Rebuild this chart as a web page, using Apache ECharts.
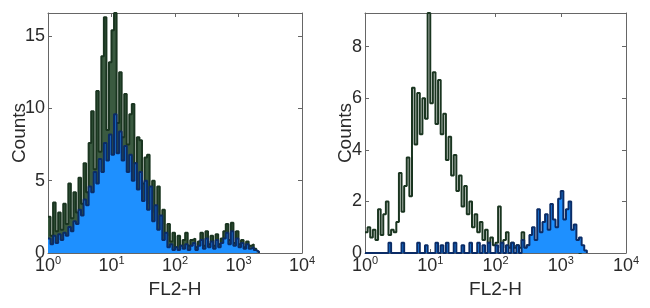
<!DOCTYPE html>
<html><head><meta charset="utf-8">
<script src="https://cdn.jsdelivr.net/npm/echarts/dist/echarts.min.js"></script>
<style>html,body{margin:0;padding:0;background:#fff}#c{width:650px;height:308px}</style>
</head><body><div id="c"></div>
<script>
// histogram bins: each bin spans binWidthDecades on the log10 FL2-H axis, starting at 10^0
const binWidthDecades = 0.04;
const xTickExponents = [0, 1, 2, 3, 4];
const leftYMax = 16.6;
const rightYMax = 9.3;
const leftYInterval = 5;
const rightYInterval = 2;

// left panel
const leftGreen = [2.5,1.2,3.5,1.5,2.8,1.6,3.4,2.0,4.8,2.4,
  4.2,2.8,5.2,3.4,6.2,4.2,7.6,9.8,5.8,11.2,
  7.0,13.6,16.3,8.5,13.2,15.4,16.6,9.0,12.5,8.0,
  11.0,7.5,9.6,10.3,6.2,8.0,7.8,4.8,6.6,6.8,
  3.4,5.0,2.8,4.6,2.0,3.0,1.2,2.0,0.8,1.4,
  0.4,1.2,0.5,0.9,1.4,0.5,0.9,1.0,0.4,0.8,
  1.4,0.5,1.5,0.6,1.2,0.5,1.3,0.6,1.0,1.5,
  2.0,0.9,2.1,0.7,1.5,0.6,0.9,0.4,0.8,0.5,
  0.6,0.3,0.1];
const leftBlue = [1.0,0.6,1.2,0.7,1.3,0.9,1.4,1.2,1.8,1.5,
  2.2,2.0,3.0,2.6,3.7,3.3,4.6,4.2,5.6,4.8,
  6.5,5.6,7.6,6.4,8.2,6.8,9.6,6.9,8.4,6.4,
  7.4,5.6,6.8,5.0,6.2,4.4,5.6,3.6,5.0,3.0,
  4.6,2.2,3.3,1.6,2.6,0.9,1.4,0.4,0.6,0.2,
  0.4,0.2,0.5,0.3,0.6,0.2,0.5,0.7,0.2,0.5,
  0.9,0.3,1.0,0.4,0.8,0.3,0.9,0.4,0.7,1.0,
  1.4,0.6,1.5,0.5,1.0,0.4,0.7,0.3,0.6,0.3,
  0.4,0.2,0.1];

// right panel
const rightGreen = [0.8,1.0,0.6,0.9,0.5,1.7,0.7,1.5,2.0,0.7,
  0.9,0.8,1.2,3.1,1.6,2.6,3.7,2.2,6.4,4.2,
  6.2,4.6,6.0,5.2,9.3,5.8,7.0,5.0,6.7,4.6,
  5.4,3.6,4.5,3.0,3.8,2.4,3.0,1.8,2.6,1.5,
  2.0,1.0,1.5,0.8,1.2,0.5,0.9,0.4,0.6,0.3,
  0.4,1.8,0.2,0.5,0.8,0.2,0.4,0.2,0.3,0.2,
  0.8,0.2,0.3,0.2,0.2,0.1,0.2,0.1,0.2,0.1,
  0.2,0.1,0.2,0.1,0.1,0.2,0.1,0.1,0.2,0.1,
  0.1,0.1,0.0];
const rightBlue = [0,0,0,0,0,0,0,0,0,0.4,
  0,0,0,0,0.4,0,0,0,0,0,
  0.4,0,0,0.3,0,0,0,0.4,0,0.3,
  0,0.4,0,0,0.4,0,0,0.3,0,0,
  0.4,0,0,0.4,0,0.3,0,0.4,0,0,
  0.3,0,0.4,0,0.3,0,0.4,0,0.3,0,
  0.5,0.2,0.3,0.7,1.0,0.5,1.7,0.8,1.2,1.5,
  0.9,1.9,1.3,1.0,2.1,2.4,1.3,1.7,2.0,0.9,
  1.1,0.5,0.6,0.3,0.1];

function steps(vals) {
  const pts = vals.map((v, i) => [Math.pow(10, i * binWidthDecades), v]);
  pts.push([Math.pow(10, vals.length * binWidthDecades), 0]);
  return pts;
}

const FONT = "'Liberation Sans', Arial, sans-serif";
const TXT = '#2a2a2a';
const LINE = '#666';
const xMin = Math.pow(10, xTickExponents[0]);
const xMax = Math.pow(10, xTickExponents[xTickExponents.length - 1]);

function xAxes(gi) {
  return [{
    type: 'log', logBase: 10, gridIndex: gi, min: xMin, max: xMax, position: 'bottom',
    axisLine: { onZero: false, lineStyle: { color: LINE, width: 1 } },
    axisTick: { inside: true, length: 4, lineStyle: { color: LINE } },
    minorTick: { show: false }, splitLine: { show: false },
    axisLabel: {
      margin: 2, color: TXT, fontFamily: FONT,
      formatter: v => '{b|10}{s|' + Math.round(Math.log10(v)) + '}',
      rich: {
        b: { fontSize: 18, fontFamily: FONT, color: TXT },
        s: { fontSize: 11, fontFamily: FONT, color: TXT, padding: [0, 0, 12, 0] }
      }
    },
    name: 'FL2-H', nameLocation: 'middle', nameGap: 27, nameMoveOverlap: false,
    nameTextStyle: { fontSize: 19, color: TXT, fontFamily: FONT }
  }, {
    type: 'log', logBase: 10, gridIndex: gi, min: xMin, max: xMax, position: 'top',
    axisLine: { onZero: false, lineStyle: { color: LINE, width: 1 } },
    axisTick: { inside: true, length: 4, lineStyle: { color: LINE } },
    axisLabel: { show: false }, splitLine: { show: false }
  }];
}
function yAxes(gi, max, interval, nameGap) {
  return [{
    type: 'value', gridIndex: gi, min: 0, max: max, interval: interval, position: 'left',
    axisLine: { show: true, onZero: false, lineStyle: { color: LINE, width: 1 } },
    axisTick: { show: true, inside: true, length: 4, lineStyle: { color: LINE } },
    splitLine: { show: false },
    axisLabel: { margin: 3, fontSize: 18, color: TXT, fontFamily: FONT, showMaxLabel: false },
    name: 'Counts', nameLocation: 'middle', nameRotate: 90, nameGap: nameGap, nameMoveOverlap: false,
    nameTextStyle: { fontSize: 19, color: TXT, fontFamily: FONT }
  }, {
    type: 'value', gridIndex: gi, min: 0, max: max, interval: interval, position: 'right',
    axisLine: { show: true, onZero: false, lineStyle: { color: LINE, width: 1 } },
    axisTick: { show: true, inside: true, length: 4, lineStyle: { color: LINE } },
    splitLine: { show: false }, axisLabel: { show: false, showMaxLabel: false }
  }];
}
function greenSeries(vals, xi, yi, fill) {
  const s = { type: 'line', xAxisIndex: xi, yAxisIndex: yi, data: steps(vals), step: 'end',
    symbol: 'none', z: 2, lineStyle: { color: '#1a3520', width: 2 } };
  if (fill) s.areaStyle = { color: fill, opacity: 1 };
  return s;
}
function blueSeries(vals, xi, yi) {
  return { type: 'line', xAxisIndex: xi, yAxisIndex: yi, data: steps(vals), step: 'end',
    symbol: 'none', z: 3, lineStyle: { color: '#0b2c66', width: 2 },
    areaStyle: { color: '#1e90ff', opacity: 1 } };
}

const chart = echarts.init(document.getElementById('c'), null, { renderer: 'canvas' });
chart.setOption({
  animation: false,
  backgroundColor: '#fff',
  grid: [
    { left: 48, top: 13, width: 254, height: 240, containLabel: false },
    { left: 365, top: 13, width: 261, height: 240, containLabel: false }
  ],
  xAxis: [...xAxes(0), ...xAxes(1)],
  yAxis: [...yAxes(0, leftYMax, leftYInterval, 19), ...yAxes(1, rightYMax, rightYInterval, 10)],
  series: [
    greenSeries(leftGreen, 0, 0, '#3a5a40'),
    blueSeries(leftBlue, 0, 0),
    greenSeries(rightGreen, 2, 2, null),
    blueSeries(rightBlue, 2, 2)
  ]
});
</script>
</body></html>
